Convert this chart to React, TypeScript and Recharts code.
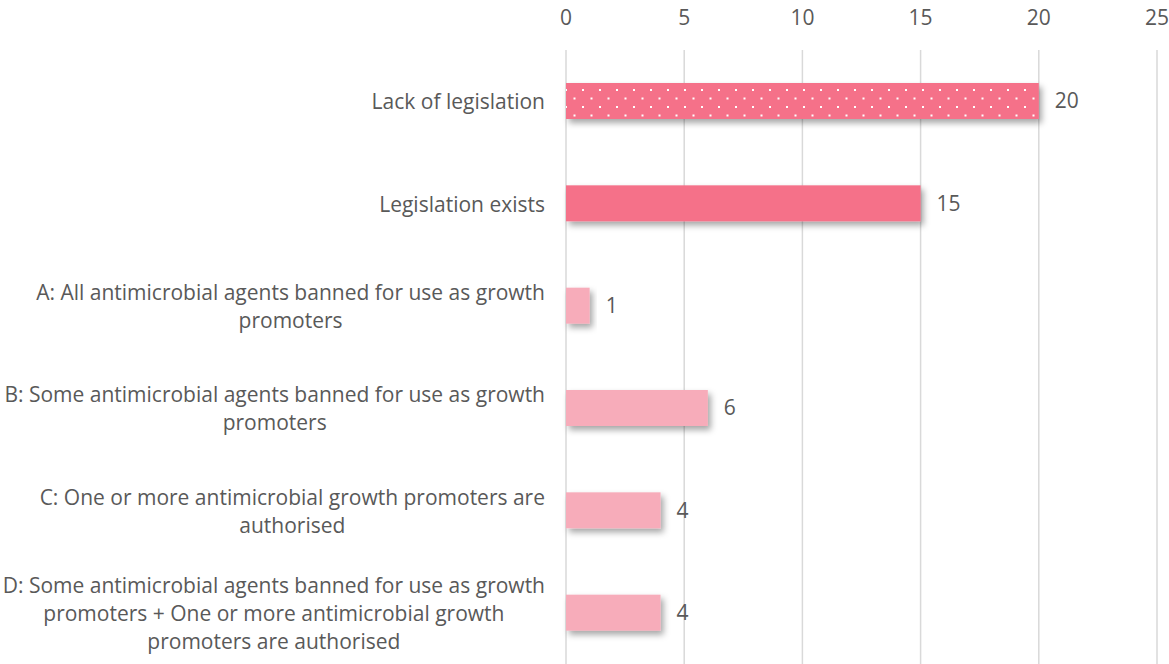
import { Bar, BarChart, CartesianGrid, LabelList, XAxis, YAxis } from "recharts";

const CATEGORIES = [
  "Lack of legislation",
  "Legislation exists",
  "A: All antimicrobial agents banned for use as growth promoters",
  "B: Some antimicrobial agents banned for use as growth promoters",
  "C: One or more antimicrobial growth promoters are authorised",
  "D: Some antimicrobial agents banned for use as growth promoters + One or more antimicrobial growth promoters are authorised",
];
const VALUES = [20, 15, 1, 6, 4, 4];
const LABEL_LINES = [
  ["Lack of legislation"],
  ["Legislation exists"],
  ["A: All antimicrobial agents banned for use as growth", "promoters"],
  ["B: Some antimicrobial agents banned for use as growth", "promoters"],
  ["C: One or more antimicrobial growth promoters are", "authorised"],
  [
    "D: Some antimicrobial agents banned for use as growth",
    "promoters + One or more antimicrobial growth",
    "promoters are authorised",
  ],
];
const X_TICKS = [0, 5, 10, 15, 20, 25];

const TEXT = "#595959";
const FONT = "'Open Sans', sans-serif";
const FONT_SIZE = 21;
const LINE_H = 28;
const STRONG = "#F57189";
const LIGHT = "#F7ACBA";

const data = CATEGORIES.map((name, i) => ({ name, value: VALUES[i] }));

let ctx: CanvasRenderingContext2D | null = null;
const measure = (s: string) => {
  if (!ctx) ctx = document.createElement("canvas").getContext("2d");
  if (!ctx) return s.length * 10;
  ctx.font = `${FONT_SIZE}px 'Open Sans'`;
  return ctx.measureText(s).width;
};

const fillFor = (i: number) =>
  i === 0 ? "url(#dots)" : i === 1 ? STRONG : LIGHT;

// excel-style wrapped label: block right-aligned, lines centred within it
const CategoryTick = (props: any) => {
  const { x, y, payload } = props;
  const lines = LABEL_LINES[payload.index] ?? [String(payload.value)];
  const w = Math.max(...lines.map(measure));
  const cx = x - 21 - w / 2;
  const y0 = y - ((lines.length - 1) * LINE_H) / 2;
  return (
    <g>
      {lines.map((l, k) => (
        <text
          key={k}
          x={cx}
          y={y0 + k * LINE_H}
          textAnchor="middle"
          dominantBaseline="central"
          fill={TEXT}
          fontSize={FONT_SIZE}
          fontFamily={FONT}
        >
          {l}
        </text>
      ))}
    </g>
  );
};

const ValueTick = (props: any) => {
  const { x, payload } = props;
  return (
    <text
      x={x}
      y={17}
      textAnchor="middle"
      dominantBaseline="central"
      fill={TEXT}
      fontSize={FONT_SIZE}
      fontFamily={FONT}
    >
      {payload.value}
    </text>
  );
};

const ShadowBar = (props: any) => {
  const { x, y, width, height, index } = props;
  return (
    <rect
      x={x}
      y={y}
      width={width}
      height={height}
      fill={fillFor(index)}
      filter="url(#shadow)"
    />
  );
};

export default function App() {
  return (
    <div style={{ position: "absolute", left: 0, top: 0, background: "#fff" }}>
      <BarChart
        width={1169}
        height={664}
        data={data}
        layout="vertical"
        margin={{ top: 0, right: 12, bottom: 0, left: 0 }}
        barSize={36}
        style={{ fontFamily: FONT }}
      >
        <defs>
          <pattern
            id="dots"
            width={17}
            height={17}
            patternUnits="userSpaceOnUse"
          >
            <rect width={17} height={17} fill={STRONG} />
            <rect x={4} y={4} width={2} height={2} fill="#fff" />
            <rect x={12.5} y={12.5} width={2} height={2} fill="#fff" />
          </pattern>
          <filter id="shadow" x="-20%" y="-30%" width="150%" height="180%">
            <feDropShadow
              dx={3}
              dy={4}
              stdDeviation={3}
              floodColor="#000"
              floodOpacity={0.35}
            />
          </filter>
        </defs>
        <CartesianGrid horizontal={false} stroke="#D9D9D9" strokeWidth={1.5} />
        <XAxis
          type="number"
          orientation="top"
          domain={[0, 25]}
          ticks={X_TICKS}
          height={50}
          axisLine={false}
          tickLine={false}
          tick={ValueTick}
          interval={0}
        />
        <YAxis
          type="category"
          dataKey="name"
          width={566}
          axisLine={false}
          tickLine={false}
          tickSize={0}
          tickMargin={0}
          interval={0}
          tick={CategoryTick}
        />
        <Bar dataKey="value" isAnimationActive={false} shape={ShadowBar}>
          <LabelList
            dataKey="value"
            position="right"
            offset={16}
            fill={TEXT}
            fontSize={FONT_SIZE}
            fontFamily={FONT}
          />
        </Bar>
      </BarChart>
    </div>
  );
}
